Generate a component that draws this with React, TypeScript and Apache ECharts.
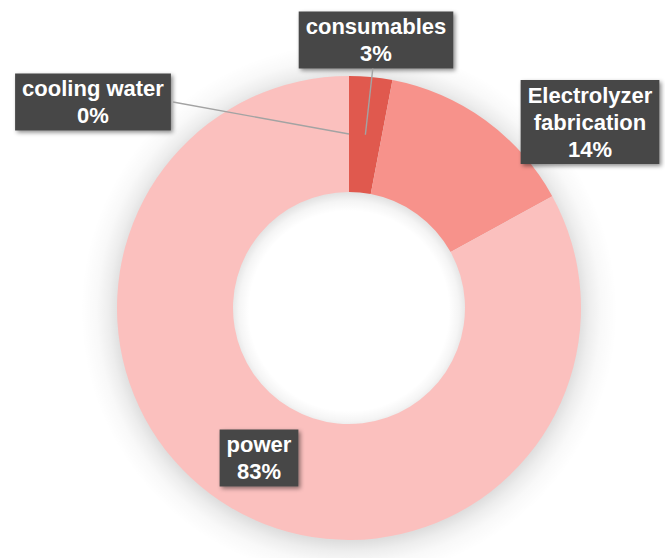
import React, { useEffect, useRef } from "react";
import * as echarts from "echarts";

// ---- data ----
const categories: string[] = ["consumables", "Electrolyzer fabrication", "power", "cooling water"];
const values: number[] = [3, 14, 83, 0];
const displayNames: string[] = ["consumables", "Electrolyzer\nfabrication", "power", "cooling water"];
const colors: string[] = ["#E0594E", "#F7928B", "#FBC0BE", "#FBC0BE"];

// ---- layout ----
const W = 665;
const H = 558;
const CX = 349;
const CY = 308;
const R_IN = 116;
const R_OUT = 232;
const FONT = 22;
const LINE_H = 27;
const PAD: number[] = [2, 7, 1, 7];
const labelCenters: number[][] = [
  [376, 40],
  [590, 122],
  [259, 458],
  [93, 102],
];
// leader line anchors: null = no line
const leaderAnchors: (string | null)[] = ["bottom", null, null, "right"];
const labelHalfWidths: number[] = [79, 70, 39, 80];

export default function App() {
  const ref = useRef<HTMLDivElement>(null);
  useEffect(() => {
    document.body.style.margin = "0";
    const chart = echarts.init(ref.current!, null, { renderer: "svg", width: W, height: H });
    const total = values.reduce((a, b) => a + b, 0);

    // leader lines from the middle of each slice's ring to its label box
    const leaders: any[] = [];
    values.forEach((v, i) => {
      const anchor = leaderAnchors[i];
      if (!anchor) return;
      const before = values.slice(0, i).reduce((a, b) => a + b, 0);
      const mid = ((before + v / 2) / total) * Math.PI * 2;
      const r = (R_IN + R_OUT) / 2;
      const px = CX + r * Math.sin(mid);
      const py = CY - r * Math.cos(mid);
      const [lx, ly] = labelCenters[i];
      const lines = displayNames[i].split("\n").length + 1;
      const h = lines * LINE_H + PAD[0] + PAD[2];
      let ex = lx;
      let ey = ly;
      if (anchor === "bottom") {
        ey = ly + h / 2;
        ex = px + (lx - px) * ((py - ey) / (py - ly));
      } else {
        ex = lx + labelHalfWidths[i];
        ey = ly;
      }
      leaders.push({
        type: "line",
        z: 50,
        silent: true,
        shape: { x1: px, y1: py, x2: ex, y2: ey },
        style: { stroke: "#A3A3A3", lineWidth: 1.4 },
      });
    });

    const s = R_OUT + 36;
    const option: any = {
      animation: false,
      backgroundColor: "#ffffff",
      graphic: [
        {
          type: "circle",
          z: 0,
          silent: true,
          shape: { cx: CX, cy: CY + 3, r: s },
          style: {
            fill: new echarts.graphic.RadialGradient(0.5, 0.5, 0.5, [
              { offset: 0, color: "rgba(0,0,0,0)" },
              { offset: (R_IN - 16) / s, color: "rgba(0,0,0,0)" },
              { offset: (R_IN - 6) / s, color: "rgba(0,0,0,0.04)" },
              { offset: (R_IN + 2) / s, color: "rgba(0,0,0,0.11)" },
              { offset: (R_OUT - 2) / s, color: "rgba(0,0,0,0.13)" },
              { offset: (R_OUT + 8) / s, color: "rgba(0,0,0,0.07)" },
              { offset: (R_OUT + 20) / s, color: "rgba(0,0,0,0.025)" },
              { offset: 1, color: "rgba(0,0,0,0)" },
            ]),
          },
        },
        ...leaders,
      ],
      series: [
        {
          type: "pie",
          z: 2,
          center: [CX, CY],
          radius: [R_IN, R_OUT],
          startAngle: 90,
          clockwise: true,
          avoidLabelOverlap: false,
          percentPrecision: 0,
          itemStyle: { borderWidth: 0 },
          label: {
            show: true,
            position: "outside",
            formatter: (p: any) => displayNames[p.dataIndex] + "\n" + Math.round(p.percent) + "%",
            color: "#ffffff",
            fontFamily: "Liberation Sans, Arial, sans-serif",
            fontWeight: "bold",
            fontSize: FONT,
            lineHeight: LINE_H,
            align: "center",
            backgroundColor: "#474747",
            padding: PAD,
            shadowColor: "rgba(0,0,0,0.45)",
            shadowBlur: 4,
            shadowOffsetX: 2,
            shadowOffsetY: 2,
          },
          labelLine: { show: false },
          labelLayout: (params: any) => {
            const [lx, ly] = labelCenters[params.dataIndex];
            return { x: lx, y: ly, align: "center", verticalAlign: "middle" };
          },
          data: categories.map((name, i) => ({
            name,
            value: values[i],
            itemStyle: { color: colors[i] },
          })),
        },
      ],
    };
    chart.setOption(option);
    return () => chart.dispose();
  }, []);
  return <div ref={ref} style={{ width: W, height: H, position: "absolute", left: 0, top: 0 }} />;
}
